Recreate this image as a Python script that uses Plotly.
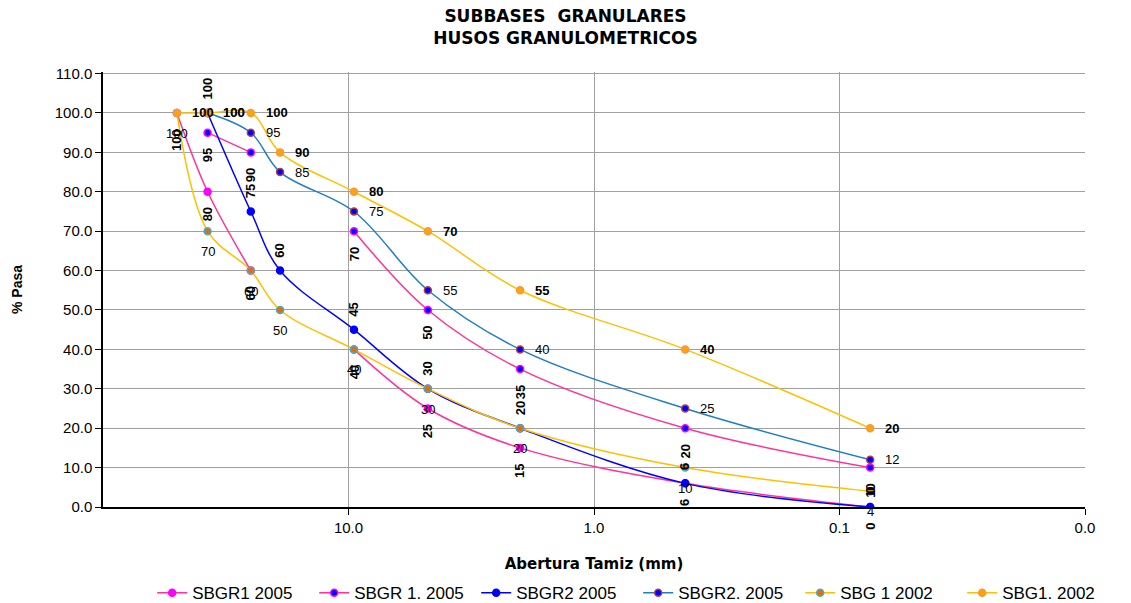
import math
import plotly.graph_objects as go

# ---- data ----
sieves = [50, 37.5, 25, 19, 9.5, 4.75, 2.0, 0.425, 0.075]
sbgr1_2005 = [100, 80, 60, None, 40, 25, 15, 6, 0]
sbgr1b_2005 = [None, 95, 90, None, 70, 50, 35, 20, 10]
sbgr2_2005 = [None, 100, 75, 60, 45, 30, 20, 6, 0]
sbgr2b_2005 = [None, 100, 95, 85, 75, 55, 40, 25, 12]
sbg1_2002 = [100, 70, 60, 50, 40, 30, 20, 10, 4]
sbg1b_2002 = [100, 100, 100, 90, 80, 70, 55, 40, 20]

x_tickvals = [10, 1, 0.1, 0.01]
x_ticktext = ["10.0", "1.0", "0.1", "0.0"]
y_tickvals = list(range(0, 111, 10))

FONT = "Liberation Sans, Arial, sans-serif"

series = [
    # name, values, line color, marker fill, marker border, label style
    ("SBGR1 2005", sbgr1_2005, "#FF3399", "#FF00FF", "#FF00FF", "rot_below"),
    ("SBGR 1. 2005", sbgr1b_2005, "#FF3399", "#0000FF", "#FF00FF", "rot_below"),
    ("SBGR2 2005", sbgr2_2005, "#0000FF", "#0000FF", "#0000FF", "rot_above"),
    ("SBGR2. 2005", sbgr2b_2005, "#1F7DC4", "#0000FF", "#B0413E", "right_normal"),
    ("SBG 1 2002", sbg1_2002, "#FFC000", "#E46C0A", "#4BACC6", "below_normal"),
    ("SBG1. 2002", sbg1b_2002, "#FFC000", "#FFA500", "#F79646", "right_bold"),
]

fig = go.Figure()
annotations = []
for name, vals, lc, mf, mb, style in series:
    fig.add_trace(go.Scatter(
        x=sieves, y=vals, name=name, mode="lines+markers",
        connectgaps=False,
        line=dict(color=lc, width=1.5, shape="spline", smoothing=1.0),
        marker=dict(size=7, color=mf, line=dict(color=mb, width=1.5)),
    ))
    for xv, yv in zip(sieves, vals):
        if yv is None:
            continue
        a = dict(x=math.log10(xv), y=yv, xref="x", yref="y", text=str(yv),
                 showarrow=False, font=dict(family=FONT, size=13, color="black"))
        if style == "rot_below":
            a.update(textangle=-90, yanchor="top", xanchor="center", yshift=-14,
                     text="<b>%s</b>" % yv)
        elif style == "rot_above":
            a.update(textangle=-90, yanchor="bottom", xanchor="center", yshift=11,
                     text="<b>%s</b>" % yv)
        elif style == "right_normal":
            a.update(xanchor="left", yanchor="middle", xshift=13)
        elif style == "right_bold":
            a.update(xanchor="left", yanchor="middle", xshift=13,
                     text="<b>%s</b>" % yv)
        elif style == "below_normal":
            a.update(xanchor="center", yanchor="top", yshift=-11)
        annotations.append(a)

fig.update_layout(
    width=1131, height=603,
    paper_bgcolor="white", plot_bgcolor="white",
    font=dict(family=FONT, size=13, color="black"),
    margin=dict(l=103, r=46, t=72, b=96, autoexpand=False),
    title=dict(text="<b>SUBBASES  GRANULARES<br>HUSOS GRANULOMETRICOS</b>",
               x=0.5, xanchor="center", y=0.963, yanchor="top", yref="container",
               font=dict(family="DejaVu Sans, " + FONT, size=17, color="black")),
    showlegend=True,
    legend=dict(orientation="h", x=0.545, xanchor="center", y=-0.198, yanchor="middle",
                font=dict(family=FONT, size=17, color="black"),
                entrywidth=117, entrywidthmode="pixels",
                bgcolor="rgba(0,0,0,0)", tracegroupgap=0),
    annotations=annotations,
)

fig.update_xaxes(
    type="log", range=[2, -2],
    tickvals=x_tickvals, ticktext=x_ticktext,
    showgrid=True, gridcolor="#A0A0A0", gridwidth=1,
    showline=True, linecolor="black", linewidth=1.5,
    ticks="outside", ticklen=6, tickcolor="black",
    tickfont=dict(family=FONT, size=15),
    zeroline=False,
    title=dict(text="<b>Abertura Tamiz (mm)</b>", standoff=24,
               font=dict(family="DejaVu Sans, " + FONT, size=15)),
)
fig.update_yaxes(
    range=[0, 110.4], tickvals=y_tickvals, tickformat=".1f",
    showgrid=True, gridcolor="#A0A0A0", gridwidth=1,
    showline=True, linecolor="black", linewidth=1.5,
    ticks="outside", ticklen=6, tickcolor="black",
    tickfont=dict(family=FONT, size=15),
    zeroline=False,
    title=dict(text="<b>% Pasa</b>", standoff=29,
               font=dict(family=FONT, size=14)),
)

fig.write_html("out.html", config={"displayModeBar": False},
               post_script="document.body.style.margin='0px';document.body.style.padding='0px';")
